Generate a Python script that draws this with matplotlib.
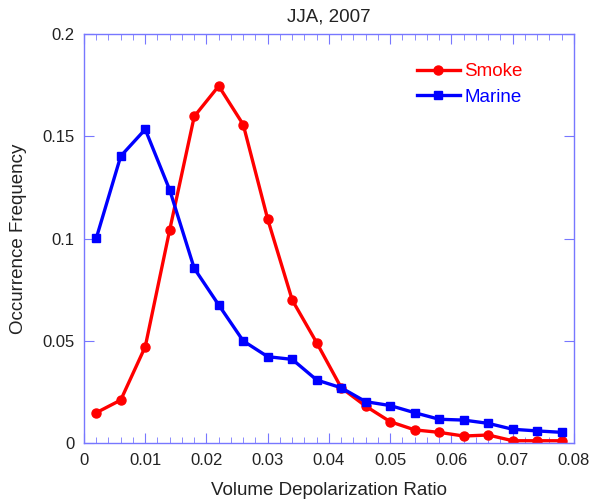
import matplotlib
matplotlib.use("Agg")
import matplotlib.pyplot as plt
from matplotlib.ticker import MultipleLocator

plt.rcParams['font.family'] = ['Liberation Sans', 'DejaVu Sans']

ratio = [0.002, 0.006, 0.010, 0.014, 0.018, 0.022, 0.026, 0.030, 0.034, 0.038,
         0.042, 0.046, 0.050, 0.054, 0.058, 0.062, 0.066, 0.070, 0.074, 0.078]
smoke = [0.0148, 0.021, 0.0471, 0.1043, 0.1597, 0.1746, 0.1557, 0.1094, 0.0699, 0.049,
         0.027, 0.018, 0.0104, 0.0064, 0.0052, 0.0034, 0.0039, 0.0011, 0.0011, 0.0011]
marine = [0.1001, 0.1403, 0.1534, 0.1237, 0.0854, 0.0675, 0.0499, 0.0422, 0.0409, 0.0308,
          0.027, 0.0202, 0.0183, 0.0148, 0.0116, 0.0112, 0.0096, 0.0067, 0.0059, 0.0052]
xticks = [0, 0.01, 0.02, 0.03, 0.04, 0.05, 0.06, 0.07, 0.08]
xtick_labels = ["0", "0.01", "0.02", "0.03", "0.04", "0.05", "0.06", "0.07", "0.08"]
yticks = [0, 0.05, 0.1, 0.15, 0.2]
ytick_labels = ["0", "0.05", "0.1", "0.15", "0.2"]

spine_col = "#7777ff"
text_col = "#222222"

fig = plt.figure(figsize=(5.89, 5.01), dpi=100)
ax = fig.add_axes([0.1426, 0.1158, 0.8319, 0.8162])

ax.plot(ratio, smoke, color="#ff0000", lw=2.4, marker="o", ms=6.5, label="Smoke")
ax.plot(ratio, marine, color="#0000ff", lw=2.4, marker="s", ms=6, label="Marine")

ax.set_xticks(xticks)
ax.set_xticklabels(xtick_labels)
ax.xaxis.set_minor_locator(MultipleLocator(0.002))
ax.set_yticks(yticks)
ax.set_yticklabels(ytick_labels)
ax.set_xlim(0, 0.08)
ax.set_ylim(0, 0.2)

for s in ax.spines.values():
    s.set_color(spine_col)
    s.set_linewidth(1.0)
ax.tick_params(which="both", direction="in", top=True, right=True, color=spine_col,
               labelsize=12, labelcolor=text_col, pad=7)
ax.tick_params(which="major", length=7)
ax.tick_params(which="minor", length=4)

ax.set_xlabel("Volume Depolarization Ratio", fontsize=13.5, color=text_col, labelpad=10)
ax.set_ylabel("Occurrence Frequency", fontsize=13.5, color=text_col, labelpad=11)
ax.set_title("JJA, 2007", fontsize=13.5, color=text_col, pad=9)

leg = ax.legend(loc="upper right", bbox_to_anchor=(0.93, 0.97), frameon=False,
                fontsize=13.5, handlelength=2.3, handletextpad=0.25, labelspacing=0.45)
for txt, line in zip(leg.get_texts(), leg.get_lines()):
    txt.set_color(line.get_color())

fig.savefig("out.png", dpi=100)
